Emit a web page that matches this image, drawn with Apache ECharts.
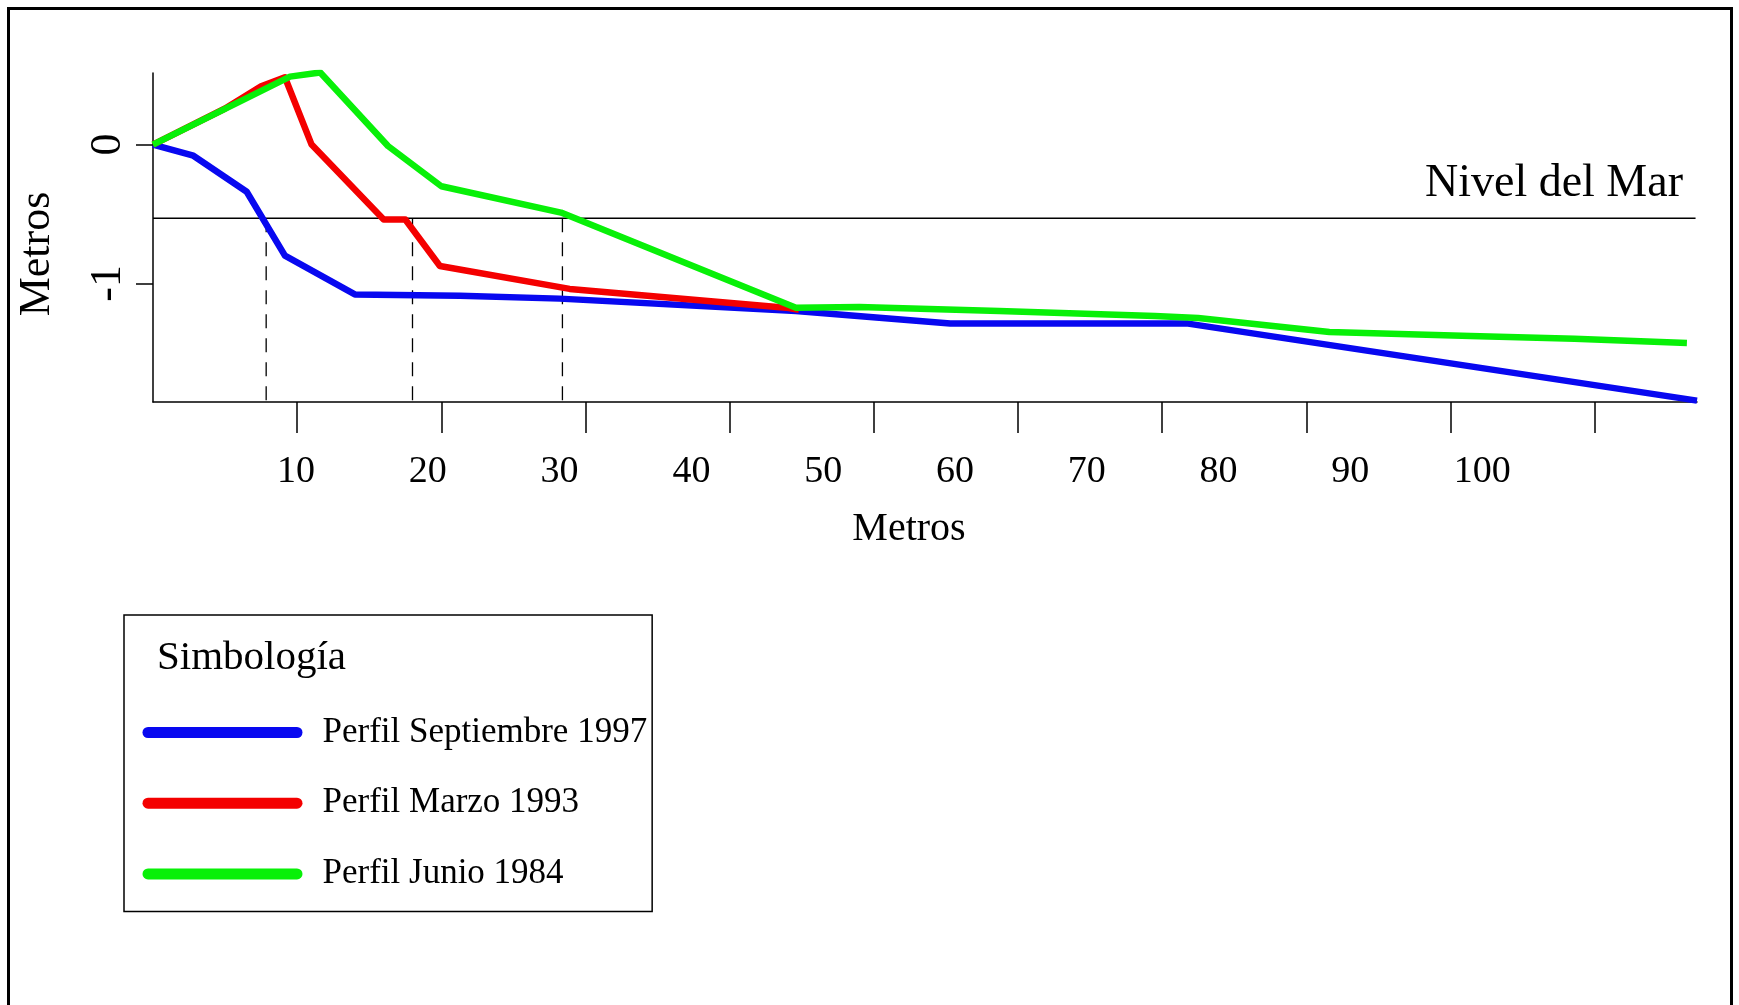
<!DOCTYPE html>
<html><head><meta charset="utf-8">
<script src="https://cdn.jsdelivr.net/npm/echarts@6/dist/echarts.min.js"></script>
<style>html,body{margin:0;padding:0;background:#fff}#c{width:1739px;height:1005px}</style>
</head><body><div id="c"></div>
<script>
// ---- data (metres along profile, elevation in metres) ----
const distSep1997 = [0, 2.8, 6.5, 9.15, 14.0, 21.3, 28.2, 44.6, 55.3, 71.8, 107.1];
const elevSep1997 = [0, -0.08, -0.34, -0.80, -1.08, -1.09, -1.11, -1.20, -1.29, -1.29, -1.845];
const distMar1993 = [0, 5.0, 7.5, 9.15, 11.0, 16.0, 17.5, 19.9, 28.9, 43.9, 44.8];
const elevMar1993 = [0, 0.26, 0.42, 0.485, 0.0, -0.54, -0.54, -0.875, -1.04, -1.175, -1.19];
const distJun1984 = [0, 9.5, 11.6, 16.3, 20.0, 28.3, 44.6, 49.0, 58.7, 69.5, 72.5, 81.6, 91.4, 98.6, 106.4];
const elevJun1984 = [0, 0.49, 0.52, -0.01, -0.30, -0.49, -1.175, -1.17, -1.20, -1.235, -1.25, -1.35, -1.38, -1.40, -1.43];
const seriesNames = ['Perfil Septiembre 1997', 'Perfil Marzo 1993', 'Perfil Junio 1984'];
const seriesColors = ['#0808f0', '#f40000', '#08f008'];
const seaLevel = -0.53;
const seaLevelEnd = 107.0;
const profileMarks = [7.85, 18.0, 28.4];
const xTickValues = [10, 20, 30, 40, 50, 60, 70, 80, 90, 100];
const xTickLabels = ['10', '20', '30', '40', '50', '60', '70', '80', '90', '100'];
const yTickValues = [0, -1];
const yTickLabels = ['0', '-1'];

const FONT = '"Liberation Serif", "Times New Roman", serif';
const chart = echarts.init(document.getElementById('c'));

const pairs = (xs, ys) => xs.map((x, i) => [x, ys[i]]);
const profiles = [
  pairs(distSep1997, elevSep1997),
  pairs(distMar1993, elevMar1993),
  pairs(distJun1984, elevJun1984)
];

const series = [];
series.push({
  type: 'line', name: 'sea', silent: true, symbol: 'none', xAxisIndex: 0,
  data: [[0, seaLevel], [seaLevelEnd, seaLevel]],
  lineStyle: { color: '#000', width: 1.5 }, z: 1
});
profileMarks.forEach(x => series.push({
  type: 'line', silent: true, symbol: 'none', xAxisIndex: 0, clip: false,
  data: [[x, seaLevel], [x, -1.9]],
  lineStyle: { color: '#000', width: 1.3, type: [14, 10] }, z: 1
}));
profiles.forEach((d, i) => series.push({
  type: 'line', name: seriesNames[i], symbol: 'none', xAxisIndex: 0,
  data: d, color: seriesColors[i],
  lineStyle: { color: seriesColors[i], width: 6.5, join: 'round' }, z: 3 + i
}));

chart.setOption({
  animation: false,
  backgroundColor: '#fff',
  grid: { left: 153, right: 42, top: 73, bottom: 603, containLabel: false },
  xAxis: [{
    type: 'value', min: 0, max: 107.1, position: 'bottom',
    axisLine: { onZero: false, lineStyle: { color: '#000', width: 1.5 } },
    axisTick: { show: true, customValues: xTickValues, length: 31, lineStyle: { color: '#000', width: 1.5 } },
    axisLabel: { show: false },
    splitLine: { show: false }
  }, {
    type: 'value', min: -0.85, max: 116.3, position: 'bottom', offset: 0,
    axisLine: { show: false }, axisTick: { show: false }, splitLine: { show: false },
    axisLabel: {
      customValues: xTickValues, margin: 51,
      formatter: v => xTickLabels[xTickValues.indexOf(v)],
      fontSize: 38, fontFamily: FONT, color: '#000'
    }
  }],
  yAxis: {
    type: 'value', min: -1.855, max: 0.516,
    axisLine: { show: true, onZero: false, lineStyle: { color: '#000', width: 1.5 } },
    axisTick: { show: true, customValues: yTickValues, length: 17, lineStyle: { color: '#000', width: 1.5 } },
    axisLabel: {
      customValues: yTickValues, rotate: 90, margin: 23,
      formatter: v => yTickLabels[yTickValues.indexOf(v)],
      fontSize: 44, fontFamily: FONT, color: '#000'
    },
    splitLine: { show: false }
  },
  legend: {
    data: seriesNames, orient: 'vertical', left: 124, top: 615,
    padding: [100, 5, 20, 18.5], itemGap: 35.7,
    itemWidth: 160, itemHeight: 11,
    icon: 'path://M5.5,0 L154.5,0 A5.5,5.5 0 0 1 154.5,11 L5.5,11 A5.5,5.5 0 0 1 5.5,0 Z',
    backgroundColor: '#fff', borderColor: '#000', borderWidth: 1.5, borderRadius: 0,
    selectedMode: false,
    textStyle: { fontSize: 35, fontFamily: FONT, color: '#000', padding: [0, 0, 0, 15] }
  },
  graphic: [
    { type: 'rect', silent: true, z: 0, shape: { x: 8.5, y: 8.5, width: 1723, height: 1100 },
      style: { fill: 'none', stroke: '#000', lineWidth: 3 } },
    { type: 'text', z: 100, x: 157, y: 658,
      style: { text: 'Simbología', fontSize: 41, fontFamily: FONT, fill: '#000', textAlign: 'left', textVerticalAlign: 'middle', verticalAlign: 'middle' } },
    { type: 'text', z: 100, x: 1683, y: 184,
      style: { text: 'Nivel del Mar', fontSize: 46, fontFamily: FONT, fill: '#000', textAlign: 'right', textVerticalAlign: 'middle', verticalAlign: 'middle' } },
    { type: 'text', z: 100, x: 909, y: 529,
      style: { text: 'Metros', fontSize: 40, fontFamily: FONT, fill: '#000', textAlign: 'center', textVerticalAlign: 'middle', verticalAlign: 'middle' } },
    { type: 'text', z: 100, x: 37, y: 254, rotation: Math.PI / 2,
      style: { text: 'Metros', fontSize: 44, fontFamily: FONT, fill: '#000', textAlign: 'center', textVerticalAlign: 'middle', verticalAlign: 'middle' } }
  ],
  series: series
});
</script></body></html>
